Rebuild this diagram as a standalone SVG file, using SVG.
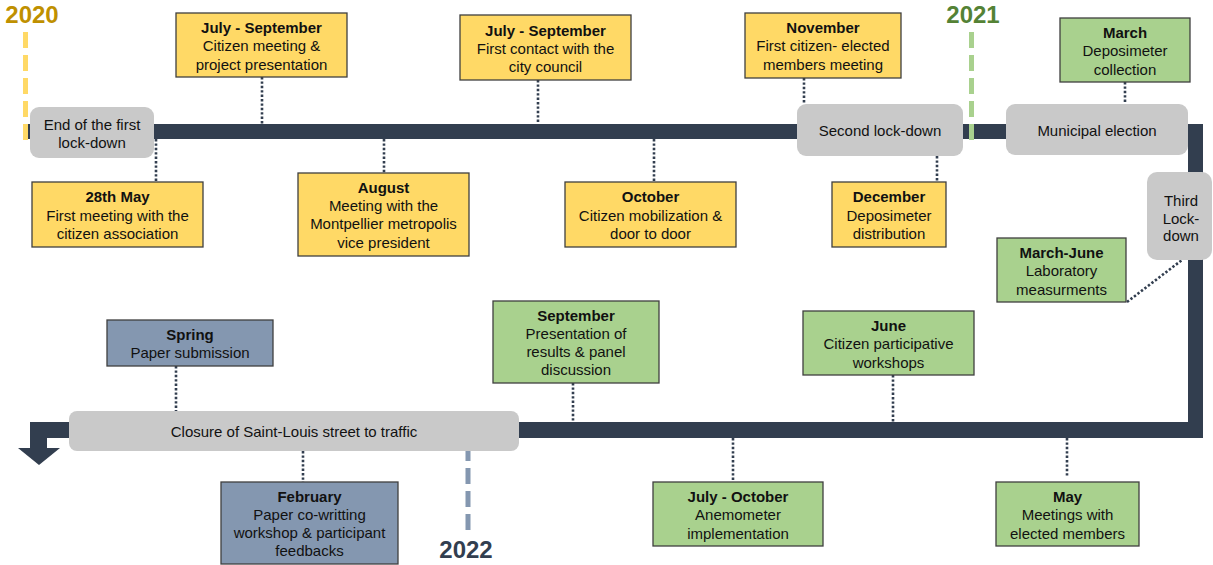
<svg xmlns="http://www.w3.org/2000/svg" width="1213" height="565" viewBox="0 0 1213 565">
<style>
.bar{fill:#323e4f}
.yel{fill:#ffd966;stroke:#3f3f3f;stroke-width:1.3}
.grn{fill:#a9d18e;stroke:#3f3f3f;stroke-width:1.3}
.blu{fill:#8497b0;stroke:#3f3f3f;stroke-width:1.3}
.gry{fill:#c9c9c9}
.dot{stroke:#323e4f;stroke-width:2.6;stroke-dasharray:2.4 2;fill:none}
text{font-family:"Liberation Sans",Arial,Helvetica,sans-serif;font-size:15px;fill:#111;text-anchor:middle}
.b{font-weight:bold}
.yr{font-weight:bold;font-size:24px}
.dash{stroke-width:5;stroke-dasharray:16 7;fill:none}
</style>
<rect width="1213" height="565" fill="#fff"/>

<g id="timeline">
<rect class="bar" x="27" y="124" width="1176" height="15"/>
<rect class="bar" x="1188" y="124" width="15" height="314"/>
<rect class="bar" x="30" y="422" width="1173" height="16"/>
<rect class="bar" x="30" y="422" width="17" height="27"/>
<polygon class="bar" points="18,448 60,448 39,465"/>
</g>

<g id="connectors">
<line class="dot" x1="156" y1="139" x2="156" y2="182"/>
<line class="dot" x1="262" y1="77" x2="262" y2="124"/>
<line class="dot" x1="384" y1="139" x2="384" y2="173"/>
<line class="dot" x1="538" y1="80" x2="538" y2="124"/>
<line class="dot" x1="654" y1="139" x2="654" y2="182"/>
<line class="dot" x1="804" y1="78" x2="804" y2="104"/>
<line class="dot" x1="937" y1="156" x2="937" y2="182"/>
<line class="dot" x1="1125" y1="82" x2="1125" y2="104"/>
<line class="dot" x1="1127" y1="302" x2="1182" y2="260"/>
<line class="dot" x1="176" y1="366" x2="176" y2="411"/>
<line class="dot" x1="303" y1="451" x2="303" y2="482"/>
<line class="dot" x1="573" y1="383" x2="573" y2="422"/>
<line class="dot" x1="893" y1="375" x2="893" y2="422"/>
<line class="dot" x1="733" y1="438" x2="733" y2="482"/>
<line class="dot" x1="1067" y1="438" x2="1067" y2="476"/>
</g>

<g id="year2020">
<line class="dash" x1="25.5" y1="32" x2="25.5" y2="140" stroke="#ffd966"/>
<text class="yr" x="32" y="23" fill="#bf9000" style="fill:#bf9000">2020</text>
</g>
<g id="year2021">
<line class="dash" x1="971.5" y1="32" x2="971.5" y2="140" stroke="#a9d18e"/>
<text class="yr" x="973" y="23" style="fill:#548235">2021</text>
</g>
<g id="year2022">
<line class="dash" x1="468" y1="445" x2="468" y2="530" stroke="#8497b0"/>
<text class="yr" x="466" y="558" style="fill:#323e4f">2022</text>
</g>

<g id="end-first-lockdown">
<rect class="gry" x="30" y="107" width="124" height="51" rx="9"/>
<text x="92" y="130">End of the first</text>
<text x="92" y="148">lock-down</text>
</g>
<g id="second-lockdown">
<rect class="gry" x="797" y="104" width="166" height="52" rx="9"/>
<text x="880" y="136">Second lock-down</text>
</g>
<g id="municipal-election">
<rect class="gry" x="1006" y="104" width="182" height="51" rx="9"/>
<text x="1097" y="136">Municipal election</text>
</g>
<g id="third-lockdown">
<rect class="gry" x="1147" y="172" width="65" height="88" rx="10"/>
<text x="1181" y="206">Third</text>
<text x="1181" y="224">Lock-</text>
<text x="1181" y="241">down</text>
</g>
<g id="closure">
<rect class="gry" x="69" y="411" width="450" height="40" rx="8"/>
<text x="294" y="437">Closure of Saint-Louis street to traffic</text>
</g>

<g id="jul-sep-2020-meeting">
<rect class="yel" x="176" y="13" width="171" height="64"/>
<text class="b" x="261.5" y="33">July - September</text>
<text x="261.5" y="51">Citizen meeting &amp;</text>
<text x="261.5" y="69.5">project presentation</text>
</g>
<g id="may-28">
<rect class="yel" x="32" y="182" width="171" height="65"/>
<text class="b" x="117.5" y="202">28th May</text>
<text x="117.5" y="220.5">First meeting with the</text>
<text x="117.5" y="239">citizen association</text>
</g>
<g id="august">
<rect class="yel" x="298" y="173" width="171" height="83"/>
<text class="b" x="383.5" y="193">August</text>
<text x="383.5" y="211.2">Meeting with the</text>
<text x="383.5" y="229.4">Montpellier metropolis</text>
<text x="383.5" y="247.6">vice president</text>
</g>
<g id="jul-sep-council">
<rect class="yel" x="460" y="15" width="171" height="65"/>
<text class="b" x="545.5" y="36">July - September</text>
<text x="545.5" y="54">First contact with the</text>
<text x="545.5" y="72">city council</text>
</g>
<g id="october">
<rect class="yel" x="565" y="182" width="171" height="65"/>
<text class="b" x="650.5" y="202">October</text>
<text x="650.5" y="220.5">Citizen mobilization &amp;</text>
<text x="650.5" y="239">door to door</text>
</g>
<g id="november">
<rect class="yel" x="745" y="13" width="156" height="65"/>
<text class="b" x="823" y="33">November</text>
<text x="823" y="51">First citizen- elected</text>
<text x="823" y="69.5">members meeting</text>
</g>
<g id="december">
<rect class="yel" x="832" y="182" width="114" height="65"/>
<text class="b" x="889" y="202">December</text>
<text x="889" y="220.5">Deposimeter</text>
<text x="889" y="239">distribution</text>
</g>

<g id="march">
<rect class="grn" x="1060" y="18" width="130" height="64"/>
<text class="b" x="1125" y="38">March</text>
<text x="1125" y="56">Deposimeter</text>
<text x="1125" y="74.5">collection</text>
</g>
<g id="march-june">
<rect class="grn" x="997" y="238" width="129" height="64"/>
<text class="b" x="1061.5" y="258">March-June</text>
<text x="1061.5" y="276">Laboratory</text>
<text x="1061.5" y="294.5">measurments</text>
</g>
<g id="september">
<rect class="grn" x="493" y="301" width="166" height="82"/>
<text class="b" x="576" y="320.5">September</text>
<text x="576" y="338.7">Presentation of</text>
<text x="576" y="356.9">results &amp; panel</text>
<text x="576" y="375.1">discussion</text>
</g>
<g id="june">
<rect class="grn" x="803" y="311" width="171" height="64"/>
<text class="b" x="888.5" y="331">June</text>
<text x="888.5" y="349">Citizen participative</text>
<text x="888.5" y="367.5">workshops</text>
</g>
<g id="jul-oct">
<rect class="grn" x="653" y="482" width="170" height="64"/>
<text class="b" x="738" y="502">July - October</text>
<text x="738" y="520">Anemometer</text>
<text x="738" y="538.5">implementation</text>
</g>
<g id="may">
<rect class="grn" x="996" y="482" width="143" height="64"/>
<text class="b" x="1067.5" y="502">May</text>
<text x="1067.5" y="520">Meetings with</text>
<text x="1067.5" y="538.5">elected members</text>
</g>

<g id="spring">
<rect class="blu" x="107" y="320" width="166" height="46"/>
<text class="b" x="190" y="340">Spring</text>
<text x="190" y="357.5">Paper submission</text>
</g>
<g id="february">
<rect class="blu" x="221" y="482" width="177" height="82"/>
<text class="b" x="309.5" y="501.5">February</text>
<text x="309.5" y="519.5">Paper co-writting</text>
<text x="309.5" y="537.5">workshop &amp; participant</text>
<text x="309.5" y="555.5">feedbacks</text>
</g>
</svg>
